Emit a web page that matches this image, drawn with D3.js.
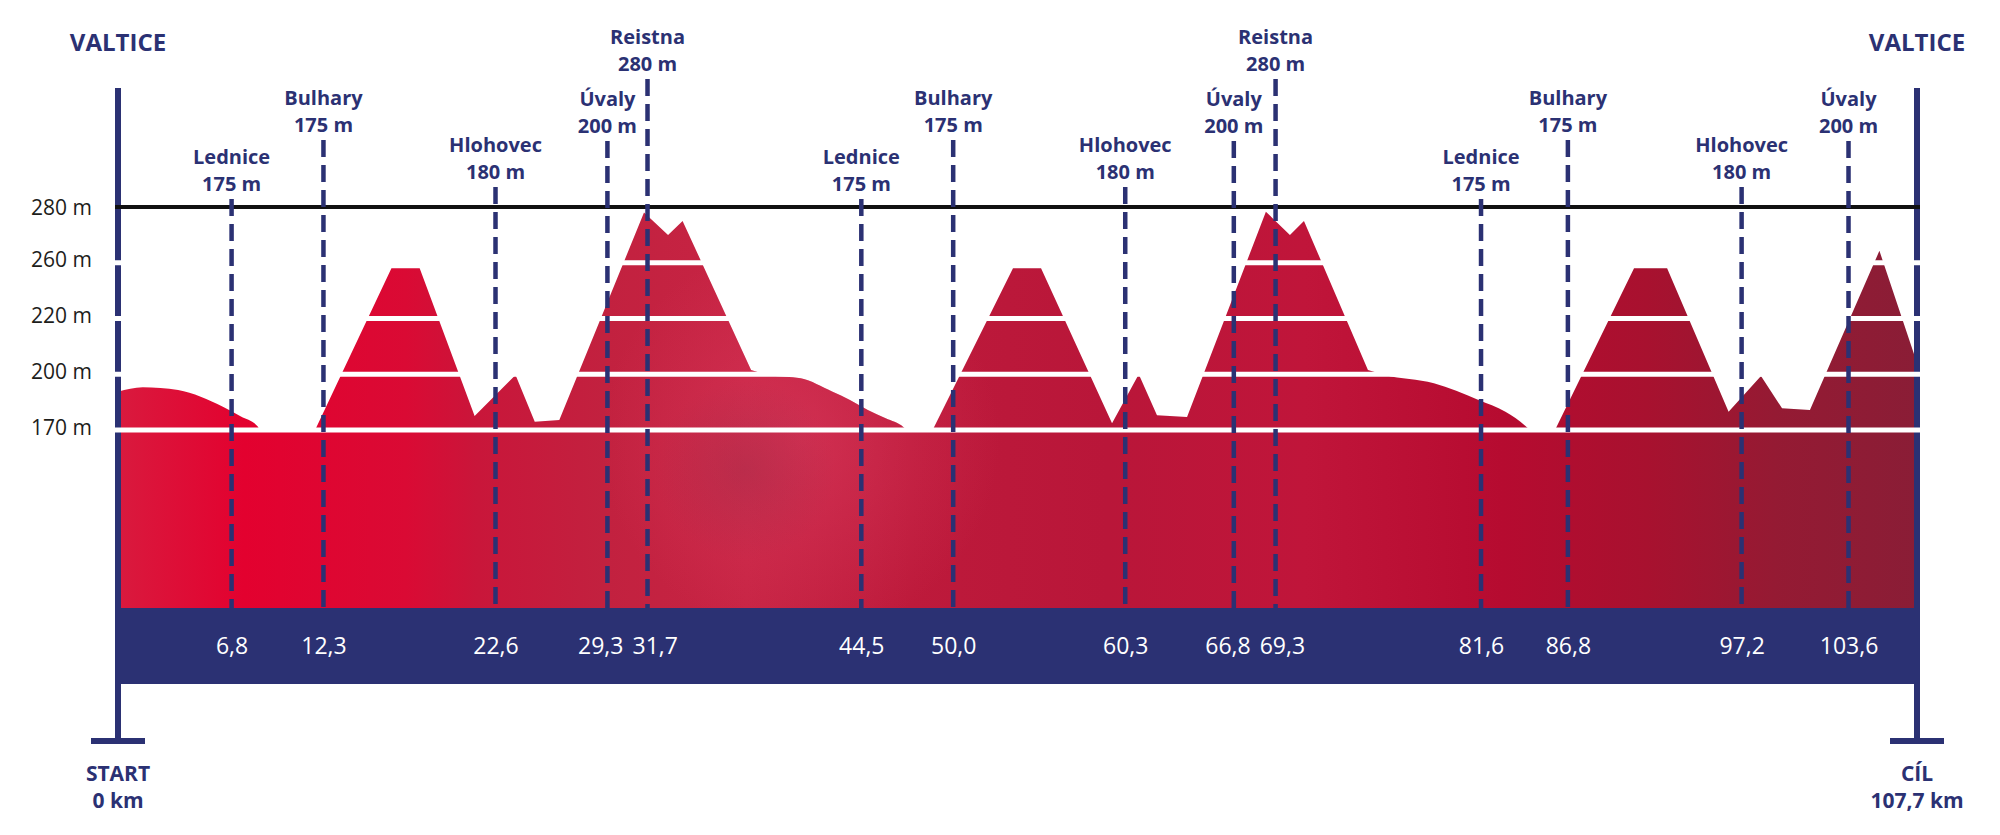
<!DOCTYPE html>
<html>
<head>
<meta charset="utf-8">
<script src="https://cdn.jsdelivr.net/npm/d3@7"></script>
<style>
  body { margin: 0; background: #fff; }
  svg { display: block; }
  text { font-family: "Open Sans", sans-serif; }
</style>
</head>
<body>
<svg width="2000" height="835"></svg>
<script>
// route data
const totalKm = 107.7;
const stopNames = ["Lednice", "Bulhary", "Hlohovec", "Úvaly", "Reistna",
                   "Lednice", "Bulhary", "Hlohovec", "Úvaly", "Reistna",
                   "Lednice", "Bulhary", "Hlohovec", "Úvaly"];
const stopKm   = [6.8, 12.3, 22.6, 29.3, 31.7, 44.5, 50.0, 60.3, 66.8, 69.3, 81.6, 86.8, 97.2, 103.6];
const stopElev = [175, 175, 180, 200, 280, 175, 175, 180, 200, 280, 175, 175, 180, 200];
const elevTicks = [170, 200, 220, 260, 280];

// elevation profile [km, m]
const profile = [
  [0, 190.6], [1.48, 193], [3.6, 191.5], [4.95, 187.9], [6.28, 182.5], [7.36, 177.2], [8.38, 171.8], [8.45, 170],
  [11.8, 170], [16.37, 256], [18.06, 256], [21.35, 177.5], [23.8, 199.6], [24.95, 174.5], [26.42, 175.4],
  [31.49, 278], [32.93, 270], [33.8, 275], [37.9, 201.5], [39.01, 199.5], [40.88, 197.8], [42.75, 190.7],
  [43.82, 186.2], [44.89, 180.8], [45.96, 176.3], [47.03, 171.5], [47.2, 170],
  [48.77, 170], [53.58, 256], [55.26, 256], [59.51, 173.6], [61.11, 200], [62.2, 177.9], [64.0, 177],
  [68.72, 278.3], [70.16, 270], [71.0, 275], [74.83, 201.5], [75.84, 199.6], [78.78, 195.1], [81.45, 186.1],
  [83.06, 179.8], [84.26, 172.2], [84.53, 170],
  [86.03, 170], [90.76, 256], [92.74, 256], [96.42, 179.8], [98.36, 199], [99.62, 181.7], [101.29, 180.8],
  [105.45, 264.3], [107.7, 204]
];
// stretches of the profile that are rounded rather than straight
const smoothSpans = [[0, 8.45], [37.9, 47.2], [74.83, 84.53]];

// label rows (name line centre) per place
const labelTop = { "Reistna": 37, "Bulhary": 98, "Úvaly": 99, "Hlohovec": 145, "Lednice": 157 };

const navy = "#2b3173";
const svg = d3.select("svg");

const x = d3.scaleLinear([0, totalKm], [118, 1917]);
const yTop = 207, yBase = 430;
const y = d3.scaleLinear(elevTicks,
  elevTicks.map((d, i) => yBase - i * (yBase - yTop) / (elevTicks.length - 1)));

const bandTop = 608, bandBottom = 684, axisTop = 88, footY = 741;

// gradients
const defs = svg.append("defs");
const grad = defs.append("linearGradient")
  .attr("id", "ground")
  .attr("gradientUnits", "userSpaceOnUse")
  .attr("x1", x(0)).attr("x2", x(totalKm)).attr("y1", 0).attr("y2", 0);
[[0, "#d91a3e"], [0.07, "#e3012f"], [0.16, "#da0a34"], [0.2, "#c9163a"], [0.27, "#c2213f"],
 [0.35, "#c72444"], [0.44, "#bd1a3b"], [0.55, "#b91639"], [0.66, "#c0153a"], [0.77, "#b60b30"],
 [0.85, "#a8112f"], [0.92, "#951a33"], [1, "#8a1d36"]]
  .forEach(s => grad.append("stop").attr("offset", s[0]).attr("stop-color", s[1]));

const glow = defs.append("radialGradient")
  .attr("id", "glow").attr("gradientUnits", "userSpaceOnUse")
  .attr("cx", 800).attr("cy", 440).attr("r", 200);
glow.append("stop").attr("offset", 0).attr("stop-color", "#e4466a").attr("stop-opacity", 0.4);
glow.append("stop").attr("offset", 1).attr("stop-color", "#e4466a").attr("stop-opacity", 0);

const shade = defs.append("radialGradient")
  .attr("id", "shade").attr("gradientUnits", "userSpaceOnUse")
  .attr("cx", 745).attr("cy", 470).attr("r", 90);
shade.append("stop").attr("offset", 0).attr("stop-color", "#962a45").attr("stop-opacity", 0.35);
shade.append("stop").attr("offset", 1).attr("stop-color", "#962a45").attr("stop-opacity", 0);

// profile outline: straight pieces for the hills, rounded for the mounds
const straightLine = d3.line().x(d => x(d[0])).y(d => y(d[1]));
const roundLine = d3.line().x(d => x(d[0])).y(d => y(d[1])).curve(d3.curveMonotoneX);

const segRound = d3.range(profile.length - 1).map(i =>
  smoothSpans.some(r => profile[i][0] >= r[0] && profile[i + 1][0] <= r[1]));

let ground = "";
let start = 0;
for (let i = 1; i <= segRound.length; i++) {
  if (i === segRound.length || segRound[i] !== segRound[start]) {
    const piece = (segRound[start] ? roundLine : straightLine)(profile.slice(start, i + 1));
    ground += ground ? "L" + piece.slice(1) : piece;
    start = i;
  }
}
ground += "L" + x(totalKm) + "," + bandTop + "L" + x(0) + "," + bandTop + "Z";

svg.append("path").attr("d", ground).attr("fill", "url(#ground)");
svg.append("path").attr("d", ground).attr("fill", "url(#glow)");
svg.append("path").attr("d", ground).attr("fill", "url(#shade)");

// start / finish posts
[0, totalKm].forEach(k => {
  svg.append("line")
    .attr("x1", x(k)).attr("x2", x(k))
    .attr("y1", axisTop).attr("y2", footY)
    .attr("stroke", navy).attr("stroke-width", 6);
  svg.append("line")
    .attr("x1", x(k) - 27).attr("x2", x(k) + 27)
    .attr("y1", footY).attr("y2", footY)
    .attr("stroke", navy).attr("stroke-width", 6);
});

// white level lines
svg.selectAll(".level")
  .data(elevTicks.filter(d => d !== 280))
  .enter().append("line")
  .attr("class", "level")
  .attr("x1", x(0) - 4).attr("x2", x(totalKm) + 4)
  .attr("y1", d => y(d)).attr("y2", d => y(d))
  .attr("stroke", "#fff").attr("stroke-width", 5);

// top line at 280 m
svg.append("line")
  .attr("x1", x(0) - 3).attr("x2", x(totalKm) + 3)
  .attr("y1", y(280)).attr("y2", y(280))
  .attr("stroke", "#111").attr("stroke-width", 4);

// dashed waypoint lines
svg.selectAll(".stop")
  .data(stopKm)
  .enter().append("line")
  .attr("class", "stop")
  .attr("x1", d => x(d)).attr("x2", d => x(d))
  .attr("y1", (d, i) => labelTop[stopNames[i]] + 42)
  .attr("y2", bandTop)
  .attr("stroke", navy).attr("stroke-width", 4.5)
  .attr("stroke-dasharray", "17,8");

// distance band
svg.append("rect")
  .attr("x", x(0) - 3).attr("y", bandTop)
  .attr("width", x(totalKm) - x(0) + 6).attr("height", bandBottom - bandTop)
  .attr("fill", navy);

const fmtKm = d => d3.format(".1f")(d).replace(".", ",");

const band = svg.append("g")
  .attr("transform", "translate(0," + ((bandTop + bandBottom) / 2) + ")")
  .call(d3.axisBottom(x).tickValues(stopKm).tickSize(0).tickFormat(fmtKm))
  .call(g => g.select(".domain").remove());

band.selectAll("text")
  .attr("y", 0).attr("dy", "0.36em")
  .attr("fill", "#fff")
  .style("font-size", "23px")
  .style("font-family", "'Open Sans', sans-serif");

// push apart labels that would touch
const bandTexts = band.selectAll("text").nodes();
const pos = stopKm.map(d => x(d));
const wid = bandTexts.map(n => n.getComputedTextLength());
for (let it = 0; it < 10; it++) {
  for (let i = 1; i < pos.length; i++) {
    const gap = (pos[i] - wid[i] / 2) - (pos[i - 1] + wid[i - 1] / 2);
    if (gap < 9) {
      const s = (9 - gap) / 2;
      pos[i - 1] -= s;
      pos[i] += s;
    }
  }
}
bandTexts.forEach((n, i) => d3.select(n).attr("x", pos[i] - x(stopKm[i])));

// elevation axis
svg.append("g")
  .attr("transform", "translate(92,0)")
  .call(d3.axisLeft(y).tickValues(elevTicks).tickSize(0).tickPadding(0).tickFormat(d => d + " m"))
  .call(g => g.select(".domain").remove())
  .selectAll("text")
  .attr("dy", d => d === 280 ? "0.34em" : "0.2em")
  .attr("fill", "#1d1d1b")
  .style("font-size", "21px")
  .style("font-family", "'Open Sans', sans-serif");

// waypoint labels
const lab = svg.selectAll(".lab")
  .data(stopKm)
  .enter().append("g")
  .attr("class", "lab")
  .attr("transform", (d, i) => "translate(" + x(d) + "," + labelTop[stopNames[i]] + ")");

lab.append("text")
  .attr("text-anchor", "middle").attr("dy", "0.36em")
  .attr("fill", navy).style("font-size", "20px").style("font-weight", 700)
  .text((d, i) => stopNames[i]);

lab.append("text")
  .attr("text-anchor", "middle").attr("y", 27).attr("dy", "0.36em")
  .attr("fill", navy).style("font-size", "20px").style("font-weight", 700)
  .text((d, i) => stopElev[i] + " m");

// town names and start / finish
[0, totalKm].forEach(k => {
  svg.append("text")
    .attr("x", x(k)).attr("y", 42).attr("dy", "0.36em")
    .attr("text-anchor", "middle")
    .attr("fill", navy).style("font-size", "24px").style("font-weight", 700)
    .text("VALTICE");
});

[[0, "START", "0 km"], [totalKm, "CÍL", fmtKm(totalKm) + " km"]].forEach(e => {
  svg.append("text")
    .attr("x", x(e[0])).attr("y", 773).attr("dy", "0.36em")
    .attr("text-anchor", "middle")
    .attr("fill", navy).style("font-size", "21px").style("font-weight", 700)
    .text(e[1]);
  svg.append("text")
    .attr("x", x(e[0])).attr("y", 800).attr("dy", "0.36em")
    .attr("text-anchor", "middle")
    .attr("fill", navy).style("font-size", "21px").style("font-weight", 700)
    .text(e[2]);
});
</script>
</body>
</html>
